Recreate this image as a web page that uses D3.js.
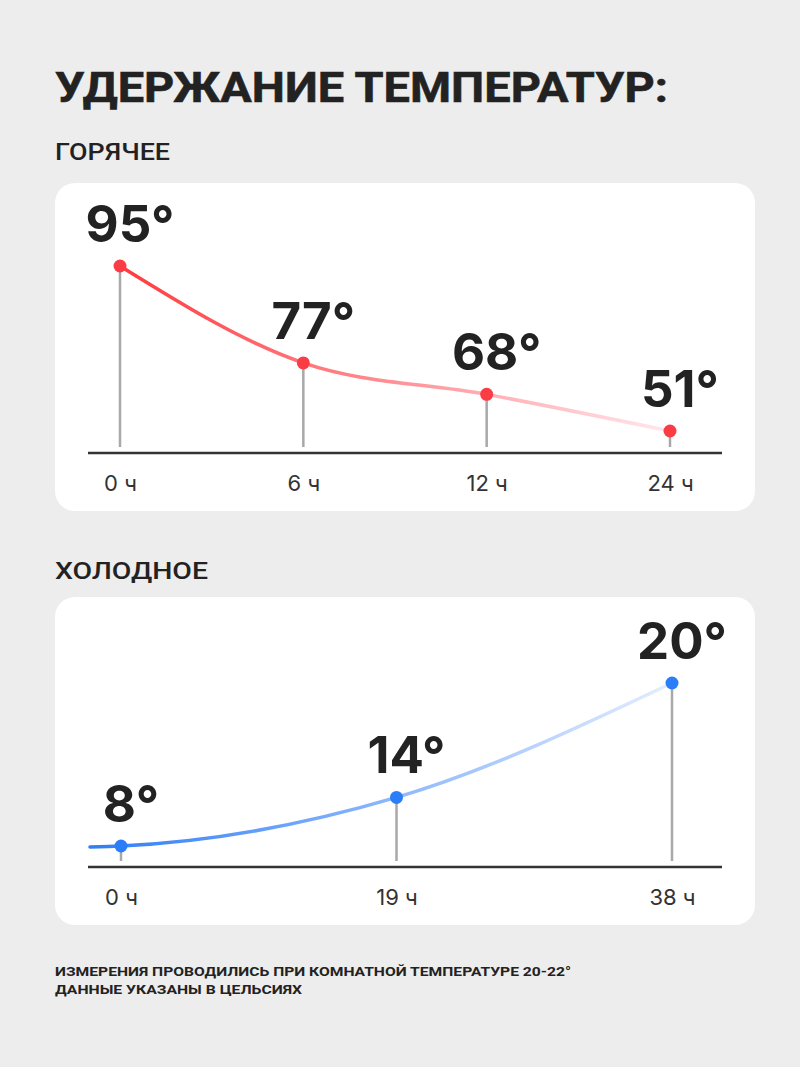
<!DOCTYPE html>
<html>
<head>
<meta charset="utf-8">
<script src="https://cdn.jsdelivr.net/npm/d3@7"></script>
<style>
  html, body { margin: 0; padding: 0; background: #ededed; }
  svg { display: block; }
</style>
</head>
<body>
<svg id="chart" width="800" height="1067"></svg>
<script>
// ---- Data ----
const title = "УДЕРЖАНИЕ ТЕМПЕРАТУР:";
const hotTitle = "ГОРЯЧЕЕ";
const coldTitle = "ХОЛОДНОЕ";
const hotHours = ["0 ч", "6 ч", "12 ч", "24 ч"];
const hotTemps = [95, 77, 68, 51];
const coldHours = ["0 ч", "19 ч", "38 ч"];
const coldTemps = [8, 14, 20];
const footnotes = [
  "ИЗМЕРЕНИЯ ПРОВОДИЛИСЬ ПРИ КОМНАТНОЙ ТЕМПЕРАТУРЕ 20-22°",
  "ДАННЫЕ УКАЗАНЫ В ЦЕЛЬСИЯХ"
];

const svg = d3.select("#chart");
const W = 800;
svg.append("rect").attr("width", W).attr("height", 1067).attr("fill", "#ededed");

const defs = svg.append("defs");
function grad(id, c0, c1) {
  const g = defs.append("linearGradient").attr("id", id)
    .attr("x1", "0%").attr("x2", "100%").attr("y1", "0%").attr("y2", "0%");
  g.append("stop").attr("offset", "0%").attr("stop-color", c0);
  g.append("stop").attr("offset", "100%").attr("stop-color", c1);
}
grad("hotGrad", "#ff3a3e", "#ffe8ee");
grad("coldGrad", "#2f7ef6", "#e4edff");

svg.append("text").text(title)
  .attr("x", 55).attr("y", 102)
  .attr("font-family", "Roboto, sans-serif").attr("font-weight", 700)
  .attr("font-size", 43).attr("fill", "#222")
  .attr("stroke", "#222").attr("stroke-width", 0.6)
  .attr("textLength", 613).attr("lengthAdjust", "spacingAndGlyphs");

function panel(cfg) {
  const g = svg.append("g");
  g.append("text").text(cfg.subtitle)
    .attr("x", 55).attr("y", cfg.subY)
    .attr("font-family", "Roboto, sans-serif").attr("font-weight", 500)
    .attr("font-size", 23).attr("fill", "#222")
    .attr("textLength", cfg.subLen).attr("lengthAdjust", "spacingAndGlyphs");

  g.append("rect").attr("x", 55).attr("y", cfg.cardTop)
    .attr("width", 700).attr("height", 328).attr("rx", 20).attr("fill", "#fff");

  const axisY = cfg.cardTop + 270;
  const x = d3.scalePoint().domain(cfg.hours).range(cfg.xRange);
  const y = d3.scalePow().exponent(cfg.exp).domain(cfg.yDomain).range(cfg.yRange);

  // axis line
  g.append("line").attr("x1", 88).attr("x2", 722)
    .attr("y1", axisY).attr("y2", axisY)
    .attr("stroke", "#333").attr("stroke-width", 2.5);

  // tick labels via d3 axis
  const ax = g.append("g").attr("transform", `translate(0,${axisY})`)
    .call(d3.axisBottom(x).tickSize(0).tickPadding(22));
  ax.select(".domain").remove();
  ax.selectAll("text")
    .attr("font-family", "Inter, sans-serif").attr("font-size", 22)
    .attr("fill", "#333");

  const data = cfg.hours.map((h, i) => ({ h, v: cfg.temps[i] }));

  // stems
  g.selectAll(".stem").data(data).join("line")
    .attr("x1", d => x(d.h)).attr("x2", d => x(d.h))
    .attr("y1", d => y(d.v)).attr("y2", axisY - 6)
    .attr("stroke", "#a8a8a8").attr("stroke-width", 2.5);

  // curve
  let pts = data.map(d => [x(d.h), y(d.v)]);
  if (cfg.extendLeft) pts = [[90, y(data[0].v) + 1]].concat(pts);
  g.append("path").attr("d", d3.line().curve(d3.curveMonotoneX)(pts))
    .attr("fill", "none").attr("stroke", cfg.gradient)
    .attr("stroke-width", 3.5).attr("stroke-linecap", "round");

  // dots
  g.selectAll(".dot").data(data).join("circle")
    .attr("cx", d => x(d.h)).attr("cy", d => y(d.v)).attr("r", 6.5)
    .attr("fill", cfg.dot);

  // value labels
  g.selectAll(".val").data(data).join("text")
    .text(d => d.v + "°")
    .attr("x", d => x(d.h) + 10).attr("y", d => y(d.v) - 24)
    .attr("text-anchor", "middle")
    .attr("font-family", "Inter, sans-serif").attr("font-weight", 700)
    .attr("font-size", 51).attr("fill", "#222");
}

panel({
  subtitle: hotTitle, subY: 160, subLen: 115, cardTop: 183,
  hours: hotHours, temps: hotTemps, xRange: [120, 670],
  yDomain: [51, 95], yRange: [431, 266], exp: 3.5,
  gradient: "url(#hotGrad)", dot: "#fa3d45", extendLeft: false
});

panel({
  subtitle: coldTitle, subY: 579, subLen: 153, cardTop: 597,
  hours: coldHours, temps: coldTemps, xRange: [121, 672],
  yDomain: [8, 20], yRange: [846, 683], exp: 3,
  gradient: "url(#coldGrad)", dot: "#2a7ef8", extendLeft: true
});

const footLens = [516, 247];
svg.selectAll(".foot").data(footnotes).join("text")
  .text(d => d)
  .attr("x", 55).attr("y", (d, i) => 976 + i * 18)
  .attr("font-family", "Roboto, sans-serif").attr("font-weight", 700)
  .attr("font-size", 13.5).attr("fill", "#222")
  .attr("textLength", (d, i) => footLens[i]).attr("lengthAdjust", "spacingAndGlyphs");
</script>
</body>
</html>
